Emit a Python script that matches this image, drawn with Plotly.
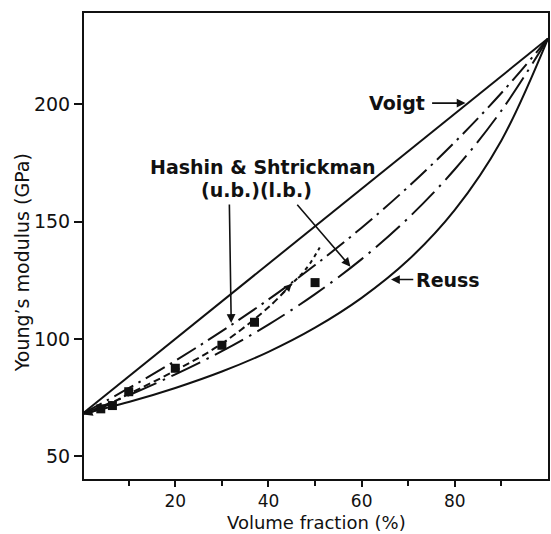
import plotly.graph_objects as go

# Volume fraction grid (%) and modulus bounds (GPa)
vol_frac = [0, 10, 20, 30, 40, 50, 60, 70, 80, 90, 100]
voigt = [68, 84, 100, 116, 132, 148, 164, 180, 196, 212, 228]
reuss = [68, 73.1, 79.1, 86.1, 94.5, 104.8, 117.5, 133.6, 155.0, 184.6, 228]
hs_upper = [68, 79.0, 90.7, 103.3, 116.8, 131.5, 147.4, 164.8, 183.9, 204.8, 228]
hs_lower = [68, 76.0, 84.9, 94.8, 106.1, 119.1, 134.0, 151.5, 172.3, 197.3, 228]

# Trend through the measurements, and its steep continuation
trend_x = [0.4, 4, 10, 20, 30, 40, 45]
trend_y = [68, 70.5, 76.5, 86.5, 98, 113.5, 123.5]
steep_x = [45.5, 47.5, 49.2, 51]
steep_y = [124.5, 128.5, 133, 139]

# Measured Young's modulus
exp_x = [4, 6.5, 10, 20, 30, 37, 50]
exp_y = [70.2, 71.6, 77.5, 87.5, 97.3, 107.1, 124]

x_ticks = [20, 40, 60, 80]
y_ticks = [50, 100, 150, 200]

BLACK = "#111111"
FONT = "DejaVu Sans"

fig = go.Figure()

fig.add_trace(go.Scatter(x=vol_frac, y=voigt, mode="lines",
                         line=dict(color=BLACK, width=2), name="Voigt"))
fig.add_trace(go.Scatter(x=vol_frac, y=reuss, mode="lines", line_shape="spline",
                         line=dict(color=BLACK, width=2), name="Reuss"))
fig.add_trace(go.Scatter(x=vol_frac, y=hs_upper, mode="lines", line_shape="spline",
                         line=dict(color=BLACK, width=2, dash="22px,6px,2.5px,6px"),
                         name="HS upper"))
fig.add_trace(go.Scatter(x=vol_frac, y=hs_lower, mode="lines", line_shape="spline",
                         line=dict(color=BLACK, width=2, dash="32px,7px,2.5px,7px"),
                         name="HS lower"))
fig.add_trace(go.Scatter(x=trend_x, y=trend_y, mode="lines", line_shape="spline",
                         line=dict(color=BLACK, width=2, dash="7px,4px"), name="trend"))
fig.add_trace(go.Scatter(x=steep_x, y=steep_y, mode="lines", line_shape="spline",
                         line=dict(color=BLACK, width=2, dash="4px,4px"), name="steep"))
fig.add_trace(go.Scatter(x=exp_x, y=exp_y, mode="markers",
                         marker=dict(symbol="square", size=9, color=BLACK),
                         name="measured"))

label_font = dict(family=FONT, size=19, color=BLACK)
arrow_kw = dict(showarrow=True, arrowhead=2, arrowsize=1.1, arrowwidth=1.6,
                arrowcolor=BLACK, axref="x", ayref="y", xref="x", yref="y", text="")

annotations = [
    dict(x=38.8, y=173.2, text="<b>Hashin & Shtrickman</b>", showarrow=False,
         font=label_font, xanchor="center", yanchor="middle"),
    dict(x=37.4, y=163.4, text="<b>(u.b.)(l.b.)</b>", showarrow=False,
         font=label_font, xanchor="center", yanchor="middle"),
    dict(x=74.0, y=200.5, text="<b>Voigt</b>", showarrow=False,
         font=label_font, xanchor="right", yanchor="middle"),
    dict(x=71.3, y=125.3, text="<b>Reuss</b>", showarrow=False,
         font=label_font, xanchor="left", yanchor="middle"),
    # pointer arrows
    dict(x=82.3, y=200.5, ax=74.8, ay=200.5, **arrow_kw),
    dict(x=66.3, y=125.3, ax=71.4, ay=125.3, **arrow_kw),
    dict(x=32.0, y=106.8, ax=31.6, ay=157.9, **arrow_kw),
    dict(x=57.6, y=130.8, ax=45.9, ay=157.8, **arrow_kw),
    # arrowheads on the trend line
    dict(x=0.6, y=67.7, ax=3.2, ay=69.6, **{**arrow_kw, "arrowwidth": 1.4}),
    dict(x=45.0, y=123.5, ax=42.6, ay=118.6, **{**arrow_kw, "arrowwidth": 1.4}),
    # axis titles
    dict(x=0.5, y=-0.094, xref="paper", yref="paper", text="Volume fraction (%)",
         showarrow=False, font=dict(family=FONT, size=18, color=BLACK),
         xanchor="center", yanchor="middle"),
    dict(x=-0.133, y=0.4635, xref="paper", yref="paper", text="Young\u2019s modulus (GPa)",
         showarrow=False, textangle=-90, font=dict(family=FONT, size=19, color=BLACK),
         xanchor="center", yanchor="middle"),
]

fig.update_layout(
    width=551, height=534,
    margin=dict(l=84, r=1, t=13, b=55),
    paper_bgcolor="white", plot_bgcolor="white",
    showlegend=False,
    annotations=annotations,
    font=dict(family=FONT, color=BLACK),
)

fig.update_xaxes(
    range=[0.4, 100], tickvals=x_ticks, ticktext=[str(v) for v in x_ticks],
    ticks="outside", ticklen=6, tickwidth=1.5, tickcolor=BLACK,
    minor=dict(tickvals=[10, 30, 50, 70, 90], ticks="outside", ticklen=5,
               tickwidth=1.5, tickcolor=BLACK),
    showline=True, linecolor=BLACK, linewidth=2, mirror=True,
    showgrid=False, zeroline=False,
    tickfont=dict(family=FONT, size=17, color=BLACK),
)
fig.update_yaxes(
    range=[40.3, 238.9], tickvals=y_ticks, ticktext=[str(v) for v in y_ticks],
    ticks="outside", ticklen=8, tickwidth=1.5, tickcolor=BLACK,
    showline=True, linecolor=BLACK, linewidth=2, mirror=True,
    showgrid=False, zeroline=False,
    tickfont=dict(family=FONT, size=19, color=BLACK),
)

fig.write_html("out.html")
